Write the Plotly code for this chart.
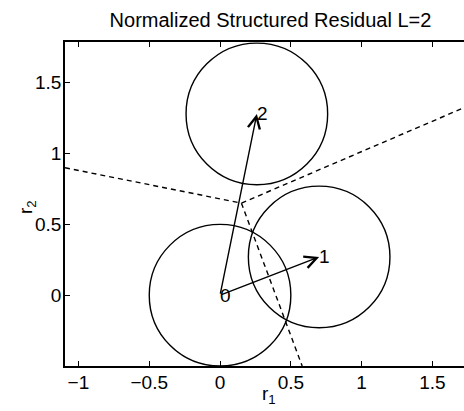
import plotly.graph_objects as go

# Data
centers_x = [0.0, 0.70, 0.26]
centers_y = [0.0, 0.27, 1.28]
labels = ["0", "1", "2"]
radius = [0.5, 0.5, 0.5]

bound_x = [-1.095, 0.151, 1.90, None, 0.151, 0.58]
bound_y = [0.90, 0.65, 1.40, None, 0.65, -0.5]

x_ticks = [-1, -0.5, 0, 0.5, 1, 1.5]
x_tick_text = ["\u22121", "\u22120.5", "0", "0.5", "1", "1.5"]
y_ticks = [0, 0.5, 1, 1.5]
y_tick_text = ["0", "0.5", "1", "1.5"]

FONT = "Liberation Sans, Arial, Helvetica, sans-serif"

fig = go.Figure()
fig.add_trace(go.Scatter(x=bound_x, y=bound_y, mode="lines",
                         line=dict(color="black", width=1.4, dash="5px,4px"),
                         hoverinfo="skip", showlegend=False))

shapes = []
for cx, cy, r in zip(centers_x, centers_y, radius):
    shapes.append(dict(type="circle", xref="x", yref="y",
                       x0=cx - r, x1=cx + r, y0=cy - r, y1=cy + r,
                       line=dict(color="black", width=1.4)))

annotations = []
for cx, cy, lab in zip(centers_x, centers_y, labels):
    if cx != 0 or cy != 0:
        annotations.append(dict(x=cx, y=cy, ax=centers_x[0], ay=centers_y[0],
                                xref="x", yref="y", axref="x", ayref="y",
                                text="", showarrow=True, arrowhead=5,
                                arrowsize=1.7, arrowwidth=1.4, arrowcolor="black",
                                standoff=0, startstandoff=0))
    annotations.append(dict(x=cx, y=cy, xref="x", yref="y", text=lab,
                            showarrow=False, xanchor="left", yanchor="middle",
                            xshift=-2, font=dict(family=FONT, size=19, color="black")))

plot_w = 464 - 65
plot_h = 411 - 42 - 45
annotations.append(dict(x=(269 - 65) / plot_w, y=(366 - 395) / plot_h, xref="paper", yref="paper",
                        text="r<sub>1</sub>", showarrow=False, xanchor="center", yanchor="middle",
                        font=dict(family=FONT, size=19, color="black")))
annotations.append(dict(x=(27 - 65) / plot_w, y=(366 - 207) / plot_h, xref="paper", yref="paper",
                        text="r<sub>2</sub>", showarrow=False, xanchor="center", yanchor="middle",
                        textangle=-90, font=dict(family=FONT, size=19, color="black")))

fig.update_layout(
    width=464, height=411,
    margin=dict(l=65, r=0, t=42, b=45),
    paper_bgcolor="white", plot_bgcolor="white",
    showlegend=False,
    shapes=shapes,
    annotations=annotations,
    title=dict(text="Normalized Structured Residual L=2",
               x=270.5 / 464, xanchor="center", xref="container",
               y=1 - 20 / 411, yanchor="middle", yref="container",
               font=dict(family=FONT, size=20, color="black")),
    font=dict(family=FONT, size=19, color="black"),
)

fig.update_xaxes(range=[-1.095, 1.723], tickvals=x_ticks, ticktext=x_tick_text,
                 ticks="inside", ticklen=5, tickwidth=1, tickcolor="black",
                 showline=True, linecolor="black", linewidth=1.5, mirror="ticks",
                 showgrid=False, zeroline=False, ticklabelstandoff=-2,
                 tickfont=dict(family=FONT, size=19, color="black"))
fig.update_yaxes(range=[-0.5, 1.788], tickvals=y_ticks, ticktext=y_tick_text,
                 ticks="inside", ticklen=5, tickwidth=1, tickcolor="black",
                 showline=True, linecolor="black", linewidth=1.5, mirror=False,
                 showgrid=False, zeroline=False, ticklabelstandoff=-2,
                 tickfont=dict(family=FONT, size=19, color="black"))

fig.write_html("out.html")
